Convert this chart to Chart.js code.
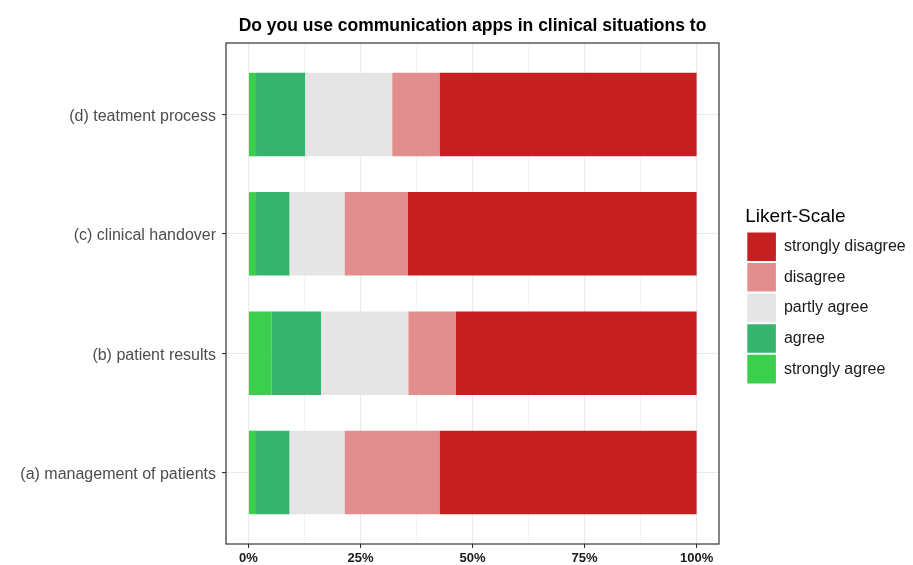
<!DOCTYPE html>
<html>
<head>
<meta charset="utf-8">
<script src="https://cdn.jsdelivr.net/npm/chart.js@4/dist/chart.umd.min.js"></script>
<style>
  html, body { margin: 0; padding: 0; background: #ffffff; }
  #wrap { width: 913px; height: 565px; }
</style>
</head>
<body>
<div id="wrap"><canvas id="c" width="913" height="565"></canvas></div>
<script>
// ---- data (percent of respondents) ----
const categories = ['(a) management of patients', '(b) patient results', '(c) clinical handover', '(d) teatment process'];
const categoryPositions = [1, 2, 3, 4];
const stronglyAgree    = [1.7, 5.2, 1.7, 1.7];
const agree            = [7.5, 11.0, 7.5, 11.0];
const partlyAgree      = [12.3, 19.5, 12.3, 19.4];
const disagree         = [21.2, 10.6, 14.1, 10.6];
const stronglyDisagree = [57.3, 53.7, 64.4, 57.3];
const seriesNames = ['strongly disagree', 'disagree', 'partly agree', 'agree', 'strongly agree'];
const xMajorTicks = [0, 25, 50, 75, 100];
const xMinorTicks = [12.5, 37.5, 62.5, 87.5];
const chartTitle = 'Do you use communication apps in clinical situations to';
const legendTitle = 'Likert-Scale';

// ---- styles ----
const colors = {
  'strongly disagree': '#C51F1F',
  'disagree': '#E28D8E',
  'partly agree': '#E5E5E5',
  'agree': '#36B36C',
  'strongly agree': '#3CCF4E'
};
const FONT = '"Liberation Sans", Arial, Helvetica, sans-serif';
Chart.defaults.font.family = FONT;

// stacking order from the left (0%) to the right (100%)
const stackOrder = [
  ['strongly agree', stronglyAgree],
  ['agree', agree],
  ['partly agree', partlyAgree],
  ['disagree', disagree],
  ['strongly disagree', stronglyDisagree]
];
const ranges = {};
const cum = categories.map(() => 0);
stackOrder.forEach(([name, vals]) => {
  ranges[name] = vals.map((v, i) => {
    const r = [cum[i], cum[i] + v];
    cum[i] += v;
    return r;
  });
});

const datasets = seriesNames.map(name => ({
  label: name,
  data: categoryPositions.map((p, i) => ({ x: ranges[name][i], y: p })),
  backgroundColor: colors[name],
  borderWidth: 0,
  grouped: false,
  barPercentage: 0.7,
  categoryPercentage: 1
}));

// legend sizing
const LEG_FONT = 16, BOX = 28.6, LEG_PAD = 2;
const mctx = document.createElement('canvas').getContext('2d');
mctx.font = LEG_FONT + 'px ' + FONT;
const textW = Math.max(...seriesNames.map(s => mctx.measureText(s).width));
const legendLeft = 745.3;
const wantLegendW = 913 - legendLeft;
const naturalW = LEG_PAD + BOX + LEG_FONT / 2 + textW + 10;
const padRight = naturalW < wantLegendW ? wantLegendW - naturalW : 0;

const panelBorder = {
  id: 'panelBorder',
  afterDatasetsDraw(chart) {
    const { ctx, chartArea: a } = chart;
    ctx.save();
    ctx.strokeStyle = '#333333';
    ctx.lineWidth = 1.2;
    ctx.strokeRect(a.left, a.top, a.right - a.left, a.bottom - a.top);
    ctx.restore();
  }
};

new Chart(document.getElementById('c'), {
  type: 'bar',
  data: { datasets },
  plugins: [panelBorder],
  options: {
    indexAxis: 'y',
    responsive: false,
    animation: false,
    layout: { padding: { top: 0, left: 0, bottom: 0, right: padRight } },
    scales: {
      x: {
        type: 'linear',
        min: -5,
        max: 105,
        afterBuildTicks: s => { s.ticks = [...xMajorTicks, ...xMinorTicks].sort((a, b) => a - b).map(v => ({ value: v })); },
        afterFit: s => { s.height = 21; },
        ticks: {
          autoSkip: false,
          maxRotation: 0,
          padding: 3,
          color: '#1a1a1a',
          font: { size: 13, weight: 'bold' },
          callback: v => (xMajorTicks.includes(v) ? v + '%' : '')
        },
        grid: {
          color: c => (c.tick && xMajorTicks.includes(c.tick.value) ? '#EBEBEB' : '#F4F4F4'),
          lineWidth: c => (c.tick && xMajorTicks.includes(c.tick.value) ? 1.1 : 1),
          tickColor: c => (c.tick && xMajorTicks.includes(c.tick.value) ? '#333333' : 'rgba(0,0,0,0)'),
          tickLength: 4,
          drawTicks: true
        },
        border: { display: false }
      },
      y: {
        type: 'linear',
        min: 0.4,
        max: 4.6,
        offset: false,
        afterBuildTicks: s => { s.ticks = categoryPositions.map(v => ({ value: v })); },
        afterFit: s => { s.width = 226; },
        ticks: {
          autoSkip: false,
          padding: 6,
          labelOffset: 2,
          color: '#4D4D4D',
          font: { size: 16 },
          callback: v => categories[categoryPositions.indexOf(v)]
        },
        grid: {
          offset: false,
          color: '#EBEBEB',
          lineWidth: 1.1,
          tickColor: '#333333',
          tickLength: 4
        },
        border: { display: false }
      },
      y2: {
        type: 'linear',
        position: 'right',
        display: true,
        afterFit: s => { s.width = legendLeft - 719; },
        ticks: { display: false },
        grid: { display: false, drawTicks: false },
        border: { display: false }
      }
    },
    plugins: {
      title: {
        display: true,
        text: chartTitle,
        fullSize: false,
        color: '#000000',
        font: { size: 17.5, weight: 'bold', lineHeight: 1.2 },
        padding: { top: 15.5, bottom: 6.5 }
      },
      legend: {
        display: true,
        position: 'right',
        align: 'center',
        maxWidth: wantLegendW,
        title: {
          display: true,
          text: legendTitle,
          position: 'start',
          color: '#000000',
          font: { size: 19, lineHeight: 1.2 },
          padding: { top: 28, bottom: 0 }
        },
        labels: {
          boxWidth: BOX,
          boxHeight: BOX,
          padding: LEG_PAD,
          color: '#1a1a1a',
          font: { size: LEG_FONT }
        }
      },
      tooltip: { enabled: false }
    }
  }
});
</script>
</body>
</html>
